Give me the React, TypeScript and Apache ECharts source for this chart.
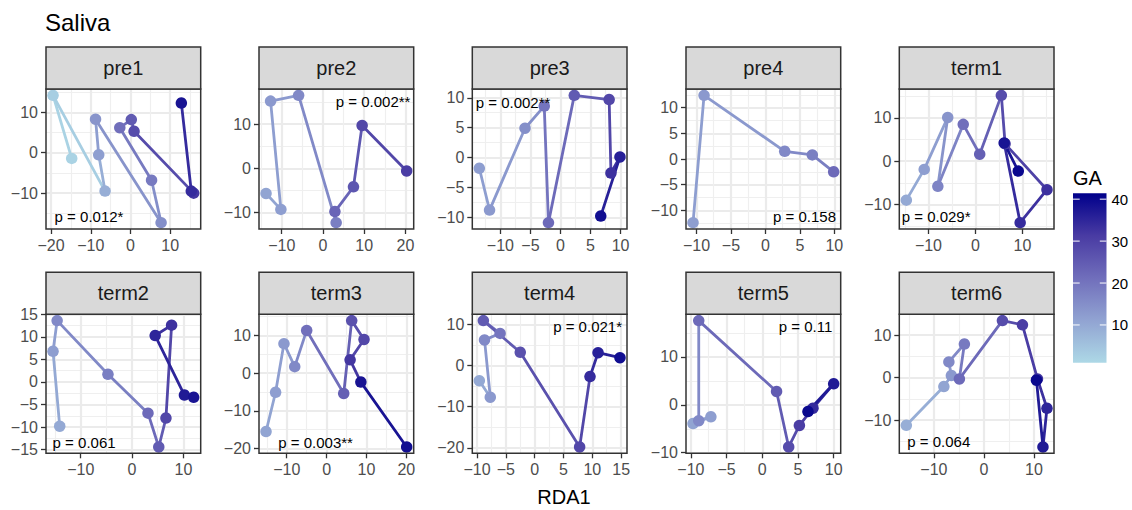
import React, { useEffect, useRef } from 'react';
import * as echarts from 'echarts';

// ---------- data ----------
const PANEL_NAMES = ['pre1', 'pre2', 'pre3', 'pre4', 'term1', 'term2', 'term3', 'term4', 'term5', 'term6'];
const P_LABELS = ['p = 0.012*', 'p = 0.002**', 'p = 0.002**', 'p = 0.158', 'p = 0.029*', 'p = 0.061', 'p = 0.003**', 'p = 0.021*', 'p = 0.11', 'p = 0.064'];
const X_STEPS = [10, 10, 5, 5, 10, 10, 10, 5, 5, 10];
const Y_STEPS = [10, 10, 5, 5, 10, 5, 10, 10, 10, 10];

// [RDA1, RDA2, GA] in path order
const pre1 = [[-14.8, -1.4, 2], [-19.5, 14.2, 3], [-6.4, -9.5, 9], [-8.0, -0.5, 12], [-8.8, 8.3, 14], [7.7, -17.3, 15], [5.3, -6.8, 19], [-2.7, 6.2, 21], [0.2, 8.2, 25], [0.9, 5.3, 28], [15.9, -10.0, 32], [15.3, -9.5, 34], [12.8, 12.3, 38]];
const pre2 = [[-13.8, -5.7, 11], [-10.2, -9.3, 12], [-12.7, 15.2, 13], [-5.9, 16.5, 16], [3.2, -12.3, 18], [2.9, -9.8, 23], [7.4, -4.2, 26], [9.5, 9.7, 29], [20.3, -0.6, 31]];
const pre3 = [[-13.5, -1.8, 12], [-11.8, -8.8, 13], [-5.9, 4.9, 15], [-2.7, 8.6, 20], [-2.0, -10.9, 22], [2.3, 10.4, 25], [8.1, 9.7, 29], [8.4, -2.6, 33], [9.9, 0.1, 36], [6.7, -9.8, 39]];
const pre4 = [[-10.5, -12.4, 12], [-8.9, 12.4, 13], [2.8, 1.5, 16], [6.8, 0.8, 18], [9.9, -2.5, 22]];
const term1 = [[-14.7, -9.0, 10], [-10.9, -1.9, 12], [-5.9, 10.1, 14], [-8.0, -5.8, 17], [-2.6, 8.5, 21], [0.9, 1.6, 24], [5.5, 15.2, 28], [6.3, 4.0, 30], [15.2, -6.6, 33], [9.5, -14.2, 34], [6.1, 4.2, 38], [9.1, -2.3, 40]];
const term2 = [[-14.1, -9.8, 10], [-15.4, 6.8, 12], [-14.6, 13.6, 16], [-4.7, 1.7, 18], [3.1, -6.9, 22], [5.2, -14.4, 25], [6.6, -8.0, 29], [7.7, 12.6, 33], [4.5, 10.3, 35], [10.2, -2.9, 37], [12.0, -3.4, 38]];
const term3 = [[-15.2, -15.5, 11], [-12.8, -5.1, 12], [-10.7, 7.8, 13], [-8.0, 1.7, 16], [-5.0, 11.3, 21], [4.3, -5.4, 24], [6.3, 13.9, 27], [9.4, 8.9, 29], [5.9, 3.5, 32], [8.6, -2.4, 38], [20.1, -19.6, 39]];
const term4 = [[-9.6, -3.7, 10], [-7.7, -7.7, 13], [-8.7, 6.2, 16], [-6.0, 7.8, 20], [-8.9, 10.9, 25], [-2.5, 3.2, 27], [7.8, -19.8, 29], [9.6, -2.7, 34], [11.0, 3.1, 36], [14.8, 1.9, 39]];
const term5 = [[-9.7, -3.9, 11], [-7.2, -2.5, 12], [-8.9, -3.3, 16], [-8.9, 17.6, 22], [2.0, 2.8, 25], [3.7, -8.8, 28], [5.2, -4.3, 31], [7.1, -0.7, 34], [10.0, 4.4, 37], [6.4, -1.4, 40]];
const term6 = [[-15.5, -11.2, 9], [-8.0, -2.1, 11], [-6.5, 0.5, 13], [-7.0, 3.7, 16], [-3.9, 7.9, 19], [-4.9, -0.3, 22], [3.7, 13.4, 28], [7.7, 12.4, 31], [10.7, -0.3, 33], [12.6, -7.2, 35], [11.8, -16.3, 37], [10.5, -0.6, 40]];
const PANEL_DATA = [pre1, pre2, pre3, pre4, term1, term2, term3, term4, term5, term6];

const GA_MIN = 1;
const GA_MAX = 41.4;
const GA_TICKS = [10, 20, 30, 40];
const GA_COLORS = ['#ADD8E6', '#91A3D2', '#706EBB', '#493BA3', '#00008B'];

// ---------- layout ----------
const FONT = '"Liberation Sans", Arial, Helvetica, sans-serif';
const COL_LEFT = [46, 259, 472.3, 686, 899.3];
const ROW_TOP = [89, 314.3];
const PANEL_W = 154.7;
const PANEL_H = [140, 139];
const STRIP_H = 42;
const P_POS = [
  { c: 'bl', dx: 8.6, dy: 12.3 },
  { c: 'tr', dx: 3.3, dy: 12.7 },
  { c: 'tl', dx: 3.4, dy: 13.3 },
  { c: 'br', dx: 4.7, dy: 12.3 },
  { c: 'bl', dx: 2.4, dy: 13 },
  { c: 'bl', dx: 6.6, dy: 11 },
  { c: 'bl', dx: 19.3, dy: 10.6 },
  { c: 'tr', dx: 5, dy: 11.7 },
  { c: 'tr', dx: 8.4, dy: 11.7 },
  { c: 'bl', dx: 8, dy: 11.6 },
];
const BAR = { x: 1073, y: 193.3, w: 33.5, h: 169.4 };

function expandRange(vals: number[]): [number, number] {
  const mn = Math.min(...vals);
  const mx = Math.max(...vals);
  const pad = (mx - mn) * 0.05;
  return [mn - pad, mx + pad];
}
function ticksFor(r: [number, number], step: number): number[] {
  const out: number[] = [];
  for (let v = Math.ceil(r[0] / step) * step; v <= r[1] + 1e-9; v += step) out.push(Math.round(v * 1e6) / 1e6);
  return out;
}
const fmt = (v: number) => (v < 0 ? '\u2212' + Math.abs(v) : String(v));

function buildOption() {
  const grid: any[] = [];
  const xAxis: any[] = [];
  const yAxis: any[] = [];
  const series: any[] = [];
  const graphic: any[] = [];

  PANEL_DATA.forEach((pts, i) => {
    const row = Math.floor(i / 5);
    const col = i % 5;
    const L = COL_LEFT[col];
    const T = ROW_TOP[row];
    const W = PANEL_W;
    const H = PANEL_H[row];
    grid.push({ left: L, top: T, width: W, height: H, show: true, backgroundColor: '#FFFFFF', borderWidth: 0, containLabel: false });

    const xr = expandRange(pts.map((p) => p[0]));
    const yr = expandRange(pts.map((p) => p[1]));
    const mk = (r: [number, number], step: number) => {
      const t = ticksFor(r, step);
      return {
        type: 'value',
        gridIndex: i,
        min: r[0],
        max: r[1],
        minInterval: step,
        maxInterval: step,
        axisLine: { show: false, onZero: false },
        axisTick: { show: true, length: 5, lineStyle: { color: '#333333', width: 1.3 }, customValues: t },
        axisLabel: {
          customValues: t,
          margin: 8,
          color: '#4D4D4D',
          fontSize: 16,
          fontFamily: FONT,
          formatter: (v: number) => (Math.abs(v / step - Math.round(v / step)) < 1e-6 ? fmt(v) : ''),
        },
        splitLine: { show: true, lineStyle: { color: '#EBEBEB', width: 2.2 } },
        minorTick: { show: false, splitNumber: 2 },
        minorSplitLine: { show: true, lineStyle: { color: '#EFEFEF', width: 1.2 } },
      };
    };
    xAxis.push({ ...mk(xr, X_STEPS[i]), position: 'bottom' });
    yAxis.push({ ...mk(yr, Y_STEPS[i]), position: 'left' });

    const segs: number[][] = [];
    for (let k = 0; k < pts.length - 1; k++) {
      segs.push([pts[k][0], pts[k][1], pts[k][2], pts[k + 1][0], pts[k + 1][1]]);
    }
    series.push({
      type: 'custom',
      xAxisIndex: i,
      yAxisIndex: i,
      dimensions: ['x1', 'y1', 'ga', 'x2', 'y2'],
      encode: { x: [0, 3], y: [1, 4] },
      data: segs,
      z: 2,
      clip: true,
      renderItem: (_p: any, api: any) => {
        const a = api.coord([api.value(0), api.value(1)]);
        const b = api.coord([api.value(3), api.value(4)]);
        return {
          type: 'line',
          shape: { x1: a[0], y1: a[1], x2: b[0], y2: b[1] },
          style: { stroke: api.visual('color'), lineWidth: 2.8, lineCap: 'round' },
        };
      },
    });
    series.push({
      type: 'scatter',
      xAxisIndex: i,
      yAxisIndex: i,
      data: pts,
      symbol: 'circle',
      symbolSize: 11.5,
      z: 3,
      itemStyle: { opacity: 1 },
      emphasis: { disabled: true },
    });

    // panel border and strip
    graphic.push({ type: 'rect', z: 100, shape: { x: L, y: T, width: W, height: H }, style: { fill: 'none', stroke: '#333333', lineWidth: 1.5 } });
    graphic.push({ type: 'rect', z: 100, shape: { x: L, y: T - STRIP_H, width: W, height: STRIP_H }, style: { fill: '#D9D9D9', stroke: '#333333', lineWidth: 1.5 } });
    graphic.push({
      type: 'text', z: 101, x: L + W / 2, y: T - STRIP_H / 2,
      style: { text: PANEL_NAMES[i], font: `20px ${FONT}`, fill: '#1A1A1A', align: 'center', verticalAlign: 'middle', textAlign: 'center', textVerticalAlign: 'middle' },
    });
    const pp = P_POS[i];
    const left = pp.c === 'bl' || pp.c === 'tl';
    const top = pp.c === 'tl' || pp.c === 'tr';
    graphic.push({
      type: 'text', z: 101,
      x: left ? L + pp.dx : L + W - pp.dx,
      y: top ? T + pp.dy : T + H - pp.dy,
      style: {
        text: P_LABELS[i], font: `15px ${FONT}`, fill: '#000000',
        align: left ? 'left' : 'right', textAlign: left ? 'left' : 'right',
        verticalAlign: 'middle', textVerticalAlign: 'middle',
      },
    });
  });

  // title and axis title
  graphic.push({ type: 'text', x: 45, y: 22, style: { text: 'Saliva', font: `24px ${FONT}`, fill: '#000000', verticalAlign: 'middle', textVerticalAlign: 'middle' } });
  graphic.push({ type: 'text', x: 564, y: 497, style: { text: 'RDA1', font: `20px ${FONT}`, fill: '#000000', align: 'center', textAlign: 'center', verticalAlign: 'middle', textVerticalAlign: 'middle' } });

  // colorbar legend
  graphic.push({ type: 'text', x: BAR.x, y: 178, style: { text: 'GA', font: `20px ${FONT}`, fill: '#000000', verticalAlign: 'middle', textVerticalAlign: 'middle' } });
  const stops = GA_COLORS.map((c, k) => ({ offset: 1 - k / (GA_COLORS.length - 1), color: c })).reverse();
  graphic.push({
    type: 'rect', shape: { x: BAR.x, y: BAR.y, width: BAR.w, height: BAR.h },
    style: { fill: { type: 'linear', x: 0, y: 0, x2: 0, y2: 1, colorStops: stops }, stroke: 'none' },
  });
  GA_TICKS.forEach((v) => {
    const y = BAR.y + BAR.h - ((v - GA_MIN) / (GA_MAX - GA_MIN)) * BAR.h;
    graphic.push({ type: 'line', shape: { x1: BAR.x, y1: y, x2: BAR.x + BAR.w / 5, y2: y }, style: { stroke: '#FFFFFF', lineWidth: 1 } });
    graphic.push({ type: 'line', shape: { x1: BAR.x + BAR.w * 4 / 5, y1: y, x2: BAR.x + BAR.w, y2: y }, style: { stroke: '#FFFFFF', lineWidth: 1 } });
    graphic.push({ type: 'text', x: BAR.x + BAR.w + 5, y, style: { text: String(v), font: `15px ${FONT}`, fill: '#000000', verticalAlign: 'middle', textVerticalAlign: 'middle' } });
  });

  return {
    animation: false,
    backgroundColor: '#FFFFFF',
    textStyle: { fontFamily: FONT },
    grid,
    xAxis,
    yAxis,
    visualMap: {
      type: 'continuous',
      show: false,
      dimension: 2,
      min: GA_MIN,
      max: GA_MAX,
      seriesIndex: series.map((_s, k) => k),
      inRange: { color: GA_COLORS },
    },
    series,
    graphic,
  };
}

export default function App() {
  const ref = useRef<HTMLDivElement>(null);
  useEffect(() => {
    if (!ref.current) return;
    const chart = echarts.init(ref.current, undefined, { renderer: 'svg' });
    chart.setOption(buildOption() as any);
    return () => chart.dispose();
  }, []);
  return <div ref={ref} style={{ position: 'fixed', left: 0, top: 0, width: 1132, height: 510 }} />;
}
